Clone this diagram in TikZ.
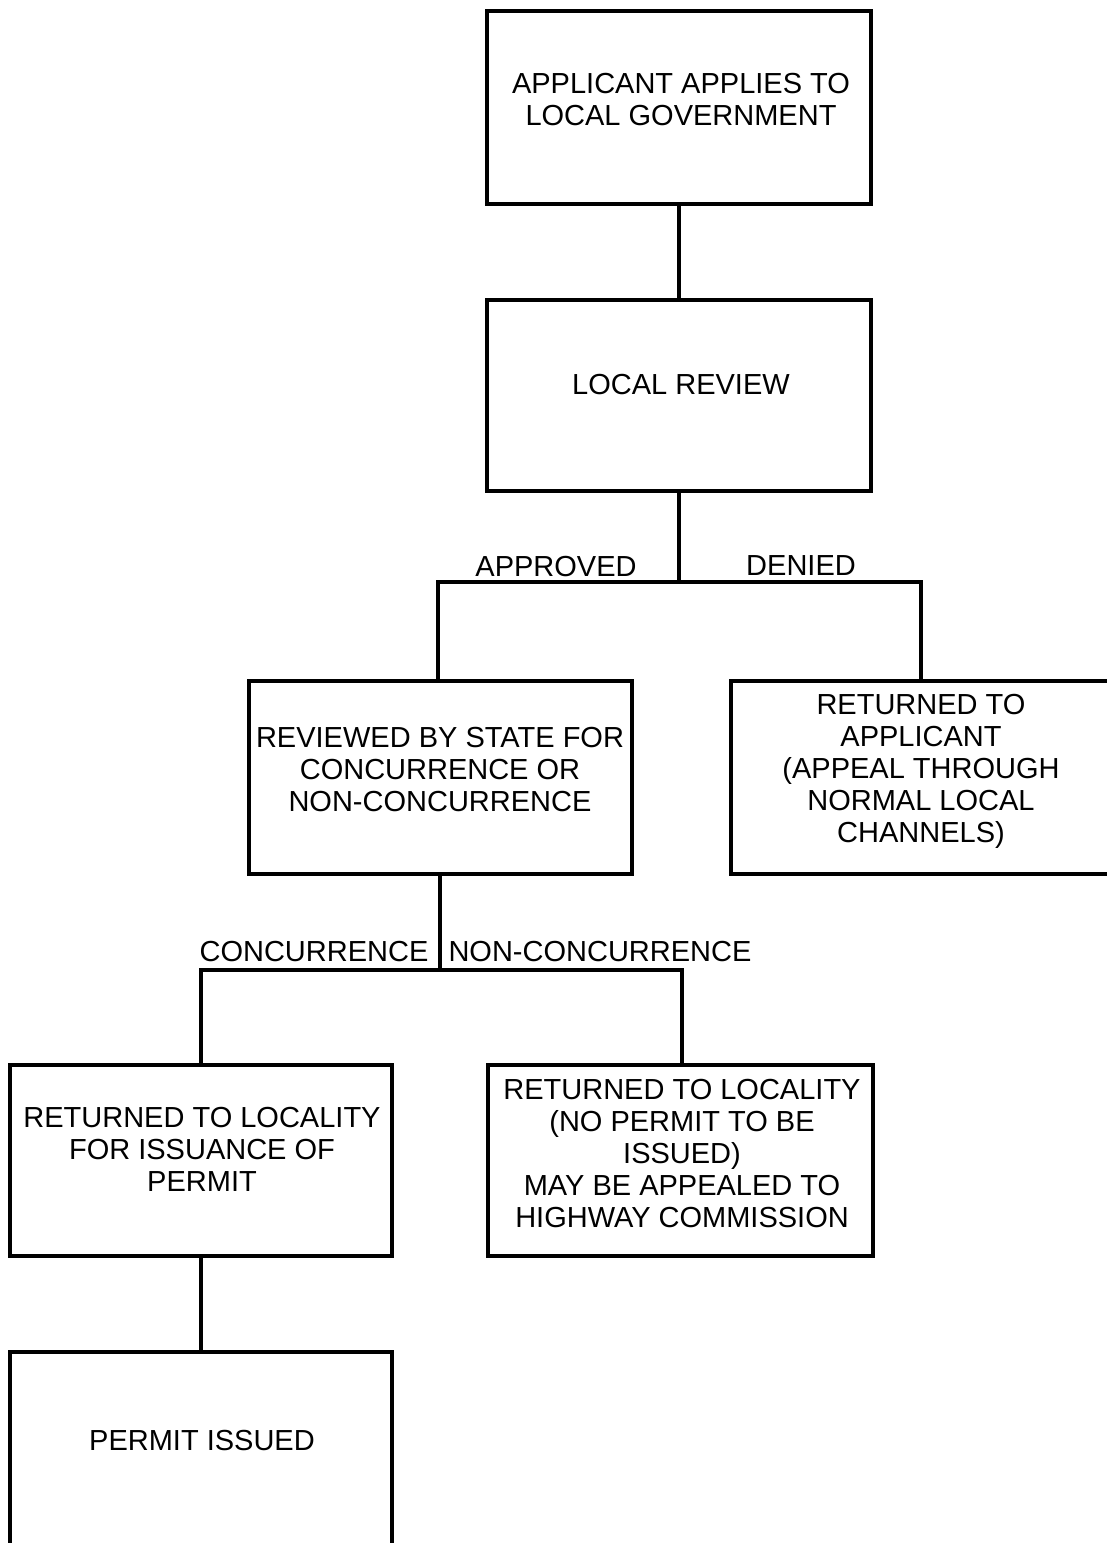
\documentclass[tikz,border=0pt]{standalone}
\usepackage{fontspec}
\setmainfont{Liberation Sans}
\begin{document}
\begin{tikzpicture}[x=1pt,y=-1pt,
  box/.style={draw=black,line width=4pt,rectangle,inner sep=0pt},
  txt/.style={inner sep=0pt,align=center,text depth=0pt,font=\fontsize{29}{32}\selectfont},
  conn/.style={draw=black,line width=4pt}]
\useasboundingbox (0,0) rectangle (1107,1543);
\clip (0,0) rectangle (1107,1543);
\fill[white] (0,0) rectangle (1107,1543);
% boxes
\node[box,minimum width=384pt,minimum height=193pt] (b1) at (679,107.5) {};
\node[box,minimum width=384pt,minimum height=191pt] (b2) at (679,395.5) {};
\node[box,minimum width=383pt,minimum height=193pt] (b3) at (440,777.5) {};
\node[box,minimum width=384pt,minimum height=193pt] (b4) at (923,777.5) {};
\node[box,minimum width=382pt,minimum height=191pt] (b5) at (201,1160.5) {};
\node[box,minimum width=385pt,minimum height=191pt] (b6) at (680.5,1160.5) {};
\node[box,minimum width=382pt,minimum height=196pt] (b7) at (201,1450) {};
% texts
\node[txt] (t1) at (681,99) {APPLICANT APPLIES TO\\LOCAL GOVERNMENT};
\node[txt] (t2) at (681,384) {LOCAL REVIEW};
\node[txt] (t3) at (440,769) {REVIEWED BY STATE FOR\\CONCURRENCE OR\\NON-CONCURRENCE};
\node[txt] (t4) at (921,768.5) {RETURNED TO\\APPLICANT\\(APPEAL THROUGH\\NORMAL LOCAL\\CHANNELS)};
\node[txt] (t5) at (202,1149) {RETURNED TO LOCALITY\\FOR ISSUANCE OF\\PERMIT};
\node[txt] (t6) at (682,1153) {RETURNED TO LOCALITY\\(NO PERMIT TO BE\\ISSUED)\\MAY BE APPEALED TO\\HIGHWAY COMMISSION};
\node[txt] (t7) at (202,1440) {PERMIT ISSUED};
% branch labels
\node[txt] (l1) at (556,566) {APPROVED};
\node[txt] (l2) at (801,566) {DENIED};
\node[txt] (l3) at (314,951) {CONCURRENCE};
\node[txt] (l4) at (600,951) {NON-CONCURRENCE};
% junctions
\coordinate (j1) at (679,582);
\coordinate (j2) at (440,970);
\coordinate (d3) at (438,681);
\coordinate (d4) at (921,681);
\coordinate (d5) at (201,1065);
\coordinate (d6) at (682,1065);
% connectors
\draw[conn] (b1.south) -- (b2.north);
\draw[conn] (b2.south) -- (j1);
\draw[conn] (d3) |- (j1) -| (d4);
\draw[conn] (b3.south) -- (j2);
\draw[conn] (d5) |- (j2) -| (d6);
\draw[conn] (b5.south) -- (b7.north);
\end{tikzpicture}
\end{document}
